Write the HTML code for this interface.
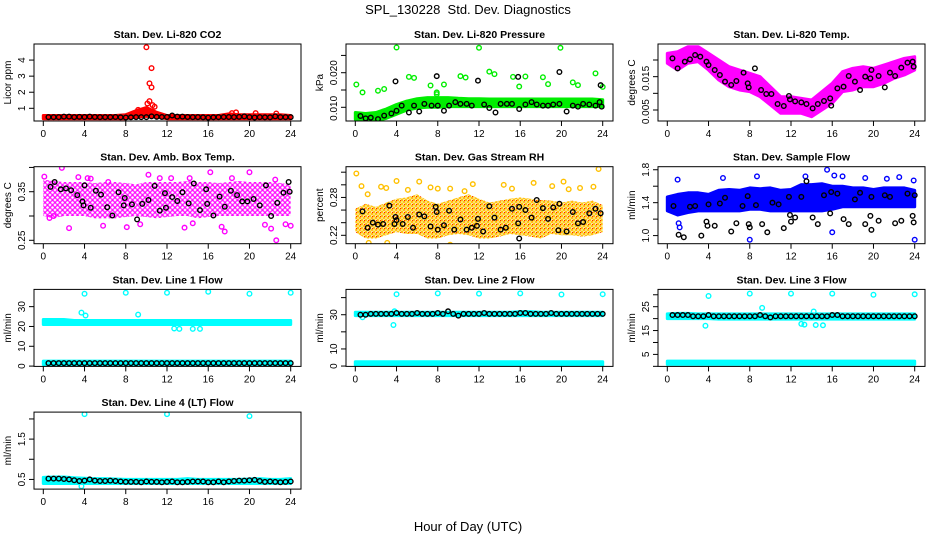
<!DOCTYPE html>
<html><head><meta charset="utf-8"><style>
body{margin:0;background:#fff;}
svg{display:block;font-family:"Liberation Sans",sans-serif;}
</style></head><body>
<svg id="c" width="936" height="540" xmlns="http://www.w3.org/2000/svg">
<rect width="936" height="540" fill="#fff"/>
<defs id="defs"></defs>
<text x="468" y="14" text-anchor="middle" font-size="13" style="white-space:pre">SPL_130228  Std. Dev. Diagnostics</text>
<text x="468" y="531" text-anchor="middle" font-size="13">Hour of Day (UTC)</text>
</svg>
<script>
// ---- shared data ----
const bandHours=[0,1,2,3,4,5,6,7,8,9,10,11,12,13,14,15,16,17,18,19,20,21,22,23,24];
const xTicks=[0,4,8,12,16,20,24];
// CO2
const co2BlackX=[0.5,1,1.5,2,2.5,3,3.5,4,4.5,5,5.5,6,6.5,7,7.5,8,8.5,9,9.5,10,10.5,11,11.5,12,12.5,13,13.5,14,14.5,15,15.5,16,16.5,17,17.5,18,18.5,19,19.5,20,20.5,21,21.5,22,22.5,23,23.5,24];
const co2BlackY=[0.45,0.45,0.45,0.48,0.48,0.45,0.47,0.46,0.48,0.46,0.45,0.45,0.45,0.46,0.44,0.43,0.44,0.45,0.45,0.45,0.5,0.47,0.46,0.46,0.55,0.48,0.48,0.46,0.45,0.45,0.44,0.42,0.44,0.45,0.46,0.46,0.45,0.47,0.5,0.45,0.43,0.45,0.44,0.44,0.5,0.45,0.45,0.45];
const co2Low=[0.35,0.35,0.35,0.35,0.35,0.35,0.35,0.35,0.35,0.45,0.5,0.45,0.35,0.35,0.35,0.35,0.35,0.35,0.35,0.35,0.35,0.35,0.35,0.35,0.35];
const co2High=[0.55,0.55,0.55,0.55,0.55,0.55,0.55,0.55,0.6,0.85,1.05,0.75,0.55,0.55,0.55,0.55,0.55,0.55,0.65,0.6,0.6,0.6,0.6,0.6,0.55];
const co2OutX=[10,10.5,10.3,10.5,10.3,9.2,10.8,18.3,18.7,20.6,22.6,10.1,10.6];
const co2OutY=[4.8,3.5,2.55,2.3,1.45,0.9,1.1,0.7,0.75,0.7,0.68,1.3,1.2];
// Pressure
const prBlackX=[0.5,1,1.5,2.2,2.8,3.5,3.9,4,4.5,5.2,5.7,6.2,6.7,7.4,7.9,8,8.6,9.1,9.7,10.2,10.8,11.3,11.9,12.5,13,13.6,14.1,14.7,15.2,15.8,15.9,16.5,17.1,17.6,18.2,18.7,19.2,19.8,19.8,20.5,21.1,21.6,22.1,22.7,23.3,23.8,23.9,23.7];
const prBlackY=[0.0075,0.0068,0.007,0.0066,0.0076,0.0082,0.0175,0.009,0.0105,0.0085,0.0105,0.0088,0.011,0.0105,0.019,0.0105,0.009,0.0105,0.0115,0.011,0.011,0.0105,0.0177,0.0108,0.0098,0.0085,0.011,0.011,0.011,0.0188,0.0095,0.0108,0.0115,0.0108,0.0105,0.0105,0.0108,0.0202,0.011,0.0088,0.0105,0.0102,0.011,0.0108,0.0105,0.0164,0.0102,0.0115];
const prLow=[0.0065,0.006,0.0062,0.0068,0.008,0.0092,0.0098,0.01,0.01,0.0102,0.0102,0.0102,0.0102,0.0102,0.0102,0.0102,0.0102,0.0102,0.0102,0.0102,0.0102,0.0102,0.0102,0.0102,0.0102];
const prHigh=[0.0085,0.0082,0.0085,0.0095,0.0108,0.0118,0.0125,0.0128,0.0128,0.0128,0.0126,0.0125,0.0125,0.0124,0.0124,0.0124,0.0124,0.0124,0.0124,0.0124,0.0124,0.0124,0.0124,0.0124,0.0122];
const prOutX=[0.1,0.7,2.2,2.8,4,5.2,5.7,7.3,7.9,7.9,8.6,10.2,10.7,12,13,13.5,15.3,15.9,16.5,18.2,18.7,19.9,21.1,21.6,23.3,24];
const prOutY=[0.0166,0.0143,0.0148,0.0153,0.0273,0.0188,0.0185,0.0163,0.0138,0.0143,0.0166,0.019,0.0186,0.0272,0.0203,0.0196,0.0188,0.016,0.0189,0.0187,0.0167,0.0272,0.0172,0.0164,0.0198,0.0159];
// Li-820 Temp
const tmBlackX=[0.5,1,1.7,2.2,2.7,3.2,3.8,4,4.6,5.1,5.6,6.2,6.7,7.4,7.8,7.9,8.5,9.1,9.6,10.1,10.7,11.3,11.8,11.9,12.4,13,13.5,14.1,14.6,15.2,15.8,15.9,16.5,17.1,17.6,18.2,18.7,19.2,19.7,19.8,20.5,21.1,21.6,22.1,22.7,23.3,23.8,23.9];
const tmBlackY=[0.0205,0.0175,0.0195,0.0202,0.0215,0.021,0.0195,0.0185,0.017,0.0155,0.0135,0.0125,0.0137,0.0162,0.013,0.0118,0.0175,0.011,0.0098,0.0098,0.0068,0.0062,0.0092,0.0082,0.0076,0.0073,0.0068,0.0055,0.0068,0.0077,0.0085,0.0063,0.0115,0.012,0.0152,0.0135,0.011,0.015,0.0145,0.017,0.0152,0.0118,0.0162,0.0152,0.0177,0.0192,0.0195,0.018];
const tmLow=[0.019,0.017,0.019,0.0195,0.017,0.014,0.012,0.011,0.0105,0.009,0.0065,0.004,0.004,0.004,0.003,0.005,0.007,0.0105,0.011,0.012,0.012,0.013,0.0145,0.0155,0.017];
const tmHigh=[0.022,0.0225,0.024,0.024,0.022,0.02,0.018,0.017,0.016,0.015,0.012,0.009,0.009,0.0085,0.008,0.0105,0.013,0.0165,0.0175,0.018,0.0175,0.0185,0.0195,0.0205,0.021];
// Ambient box temp
const abBlackX=[0.7,1.1,1.7,2.2,2.7,3.3,3.8,3.9,4,4.6,5.1,5.6,6.2,6.7,7.3,7.8,7.9,8.6,9.1,9.6,10.2,10.8,11.3,11.8,11.9,12.5,13,13.5,14.1,14.6,15.2,15.8,15.9,16.5,17.1,17.6,18.2,18.8,19.3,19.8,20.4,21,21.6,22.1,22.7,23.3,23.8,23.9];
const abBlackY=[0.36,0.37,0.355,0.357,0.353,0.343,0.33,0.322,0.363,0.317,0.352,0.344,0.318,0.301,0.349,0.322,0.337,0.324,0.293,0.325,0.333,0.362,0.311,0.347,0.317,0.339,0.331,0.349,0.326,0.367,0.312,0.355,0.325,0.301,0.34,0.319,0.352,0.343,0.33,0.33,0.335,0.322,0.363,0.3,0.327,0.348,0.37,0.35];
const abLow=[0.3,0.295,0.3,0.3,0.3,0.295,0.295,0.295,0.298,0.3,0.298,0.295,0.298,0.3,0.3,0.295,0.298,0.3,0.3,0.3,0.3,0.3,0.3,0.3,0.3];
const abHigh=[0.375,0.372,0.37,0.37,0.37,0.368,0.37,0.37,0.368,0.365,0.37,0.37,0.37,0.37,0.372,0.37,0.37,0.368,0.37,0.372,0.37,0.37,0.37,0.368,0.365];
const abOutX=[0.1,1.8,3.4,4.3,4.6,6.3,10.2,11.3,12.4,14.2,16.2,18.3,20,22.5,2.5,5.8,8.1,9.4,13.7,14.5,17.3,17.6,21.5,22.1,22.6,23.5,24,0.6,1.0];
const abOutY=[0.381,0.399,0.38,0.378,0.377,0.37,0.385,0.378,0.378,0.378,0.39,0.378,0.39,0.375,0.275,0.28,0.277,0.283,0.276,0.285,0.278,0.268,0.282,0.274,0.25,0.283,0.28,0.296,0.3];
// Gas stream RH
const rhBlackX=[0.7,1.2,1.7,2.2,2.7,3.3,3.8,3.9,4,4.6,5.1,5.6,6.2,6.7,7.3,7.8,7.9,8,8.6,9.1,9.6,10.2,10.8,11.3,11.8,11.9,12.4,13,13.5,14.1,14.6,15.2,15.8,15.9,15.9,16.5,17.1,17.6,18.2,18.7,19.2,19.7,19.8,20.5,21.1,21.6,22.1,22.7,23.3,23.8];
const rhBlackY=[0.258,0.232,0.24,0.237,0.238,0.267,0.238,0.249,0.244,0.238,0.249,0.232,0.253,0.25,0.234,0.265,0.257,0.229,0.236,0.259,0.229,0.245,0.229,0.232,0.235,0.246,0.226,0.266,0.248,0.229,0.232,0.262,0.239,0.265,0.215,0.26,0.248,0.276,0.263,0.246,0.264,0.228,0.27,0.226,0.257,0.239,0.241,0.255,0.262,0.255];
const rhLow=[0.225,0.215,0.215,0.22,0.225,0.222,0.222,0.215,0.215,0.22,0.222,0.22,0.215,0.215,0.218,0.222,0.22,0.218,0.215,0.222,0.22,0.22,0.218,0.22,0.225];
const rhHigh=[0.262,0.27,0.265,0.272,0.278,0.28,0.285,0.275,0.27,0.275,0.28,0.285,0.278,0.272,0.275,0.278,0.28,0.278,0.276,0.275,0.272,0.275,0.272,0.275,0.268];
const rhOutX=[0.1,0.6,1.2,2.5,3,4,5.1,6.2,7.3,8,9.2,10.6,11.4,14.4,15.2,17.3,19.1,20.2,20.7,21.8,23.1,23.6,9.2,3.1,1.3];
const rhOutY=[0.318,0.298,0.285,0.297,0.295,0.306,0.292,0.305,0.296,0.294,0.294,0.29,0.301,0.3,0.294,0.303,0.298,0.305,0.293,0.295,0.297,0.325,0.205,0.208,0.208];
// Sample flow
const sfBlackX=[0.6,1.1,1.6,2.2,2.7,3.3,3.8,3.9,4,4.6,5.1,5.6,6.2,6.7,7.3,7.8,7.9,8,8.6,9.2,9.7,10.2,10.8,11.3,11.8,11.9,12,12.4,13,13.5,14.1,14.6,15.2,15.8,15.9,16.5,17.1,17.6,18.2,18.7,19.2,19.7,19.8,19.8,20.5,21.1,21.6,22.1,22.7,23.3,23.8,23.9,24];
const sfBlackY=[1.36,1.01,0.98,1.35,1.36,1.0,1.17,1.12,1.38,1.12,1.39,1.46,1.05,1.15,1.36,1.48,1.14,1.1,1.37,1.14,1.04,1.4,1.38,1.09,1.47,1.25,1.17,1.22,1.47,1.66,1.22,1.14,1.49,1.27,1.53,1.51,1.2,1.14,1.44,1.52,1.14,1.24,1.07,1.47,1.18,1.49,1.47,1.15,1.18,1.51,1.24,1.16,1.49];
const sfLow=[1.3,1.25,1.28,1.3,1.3,1.3,1.3,1.3,1.32,1.32,1.3,1.3,1.3,1.3,1.3,1.3,1.32,1.35,1.35,1.35,1.35,1.35,1.35,1.35,1.35];
const sfHigh=[1.47,1.5,1.52,1.52,1.5,1.55,1.56,1.55,1.58,1.57,1.58,1.55,1.56,1.62,1.62,1.63,1.6,1.6,1.58,1.58,1.56,1.58,1.58,1.58,1.55];
const sfOutX=[1,1.1,1.2,5.4,8,8.7,13.4,15.5,16,16.2,17,19.2,22.5,23.9,24,21.3,1.5];
const sfOutY=[1.68,1.15,1.1,1.7,0.95,1.72,1.72,1.8,1.04,1.73,1.72,1.7,1.71,1.67,0.95,1.69,1.3];
// Line flows (black every 0.5 h)
const halfHours=[0.5,1,1.5,2,2.5,3,3.5,4,4.5,5,5.5,6,6.5,7,7.5,8,8.5,9,9.5,10,10.5,11,11.5,12,12.5,13,13.5,14,14.5,15,15.5,16,16.5,17,17.5,18,18.5,19,19.5,20,20.5,21,21.5,22,22.5,23,23.5,24];
const l1Black=[1.5,1.5,1.5,1.5,1.5,1.5,1.5,1.5,1.5,1.5,1.5,1.5,1.5,1.5,1.5,1.5,1.5,1.5,1.5,1.5,1.5,1.5,1.5,1.5,1.5,1.5,1.5,1.5,1.5,1.5,1.5,1.5,1.5,1.5,1.5,1.5,1.5,1.5,1.5,1.5,1.5,1.5,1.5,1.5,1.5,1.5,1.5,1.5];
const l1Low=[21,21,21,21,21,21,21,21,21,21,21,21,21,21,21,21,21,21,21,21,21,21,21,21,21];
const l1High=[23.5,23.5,23.5,23,23,23,23,23,23,23,23,23,23,23,23,23,23,23,23,23,23,23,23,23,23];
const l1LowBandLo=[0.8,0.8,0.8,0.8,0.8,0.8,0.8,0.8,0.8,0.8,0.8,0.8,0.8,0.8,0.8,0.8,0.8,0.8,0.8,0.8,0.8,0.8,0.8,0.8,0.8];
const l1LowBandHi=[2.5,2.5,2.5,2.5,2.5,2.5,2.5,2.5,2.5,2.5,2.5,2.5,2.5,2.5,2.5,2.5,2.5,2.5,2.5,2.5,2.5,2.5,2.5,2.5,2.5];
const l1OutX=[4,8,12,16,20,24,3.7,4.1,9.2,12.7,13.2,14.5,15.2];
const l1OutY=[36.5,37,37,37.5,36.5,37,27,25.5,26,19,18.8,18.8,18.8];
const l2Black=[30,30,30.5,30.5,30.5,30.5,30.5,31,30.5,30.5,30.5,31,30.5,30.5,30.5,31,30.5,32,30.5,29.5,30.5,30.5,30.5,30.5,31,30.5,30.5,30.5,30.5,30.5,30.5,31,31,30.5,30.5,30.5,30.5,31,30.5,30.5,30.5,30.5,30.5,30.5,30.5,30.5,30.5,30.5];
const l2Low=[29.5,29.5,29.5,29.5,29.5,29.5,29.5,29.5,29.5,29.5,29.5,29.5,29.5,29.5,29.5,29.5,29.5,29.5,29.5,29.5,29.5,29.5,29.5,29.5,29.5];
const l2High=[31.5,31.5,31.5,31.5,31.5,31.5,31.5,31.5,31.5,31.5,31.5,31.5,31.5,31.5,31.5,31.5,31.8,31.8,31.5,31.5,31.5,31.5,31.5,31.5,31.5];
const l2LowBandLo=[0.5,0.5,0.5,0.5,0.5,0.5,0.5,0.5,0.5,0.5,0.5,0.5,0.5,0.5,0.5,0.5,0.5,0.5,0.5,0.5,0.5,0.5,0.5,0.5,0.5];
const l2LowBandHi=[2.5,2.5,2.5,2.5,2.5,2.5,2.5,2.5,2.5,2.5,2.5,2.5,2.5,2.5,2.5,2.5,2.5,2.5,2.5,2.5,2.5,2.5,2.5,2.5,2.5];
const l2OutX=[4,8,12,16,20,24,3.7,0.7,3.8];
const l2OutY=[42,42.5,42.3,42.5,41.8,42,24,28.5,32];
const l3Black=[21.5,21.5,21.5,21.5,21,21,21,21.5,21,21,21,21,21,21,21,21,21,21.5,21,20.5,21,21,21,21,21,21,21,21,21,21,21,21.5,21.5,21,21,21,21,21,21,21,21,21,21,21,21,21,21,21];
const l3Low=[20,20,20,20,20,19.8,19.8,19.8,19.8,19.8,19.8,19.8,19.8,19.8,19.8,19.8,19.8,19.8,19.8,19.8,19.8,19.8,19.8,19.8,19.8];
const l3High=[22,22.2,22.2,22,22,22,22,22,22,22,22,22,22,22,22,22,22,22,22,22,22,22,22,22,22];
const l3LowBandLo=[0.8,0.8,0.8,0.8,0.8,0.8,0.8,0.8,0.8,0.8,0.8,0.8,0.8,0.8,0.8,0.8,0.8,0.8,0.8,0.8,0.8,0.8,0.8,0.8,0.8];
const l3LowBandHi=[2.2,2.2,2.2,2.2,2.2,2.2,2.2,2.2,2.2,2.2,2.2,2.2,2.2,2.2,2.2,2.2,2.2,2.2,2.2,2.2,2.2,2.2,2.2,2.2,2.2];
const l3OutX=[4,8,12,16,20,24,3.7,9.2,13,13.3,14.4,15.1,14.2];
const l3OutY=[29.5,30.5,30.5,30.5,30,30.2,17,24.5,17.8,17.5,17.3,17.2,23];
const l4Black=[0.52,0.52,0.52,0.51,0.5,0.48,0.46,0.47,0.5,0.47,0.46,0.46,0.47,0.46,0.45,0.44,0.44,0.44,0.43,0.45,0.44,0.44,0.43,0.44,0.45,0.43,0.43,0.44,0.45,0.45,0.45,0.43,0.43,0.45,0.43,0.45,0.46,0.47,0.47,0.48,0.49,0.46,0.44,0.45,0.44,0.43,0.44,0.45];
const l4Low=[0.4,0.4,0.4,0.4,0.4,0.4,0.4,0.4,0.4,0.4,0.4,0.4,0.4,0.4,0.4,0.4,0.4,0.4,0.4,0.4,0.4,0.4,0.4,0.4,0.4];
const l4High=[0.55,0.56,0.56,0.54,0.53,0.52,0.52,0.51,0.5,0.5,0.5,0.5,0.5,0.5,0.52,0.5,0.5,0.5,0.5,0.5,0.51,0.52,0.5,0.5,0.52];
const l4OutX=[4,12,20,3.7];
const l4OutY=[2.12,2.12,2.07,0.33];

const NS="http://www.w3.org/2000/svg";
const svg=document.getElementById('c');
const defs=document.getElementById('defs');
function mk(tag,attrs,parent){const e=document.createElementNS(NS,tag);for(const k in attrs)e.setAttribute(k,attrs[k]);(parent||svg).appendChild(e);return e;}
let patN=0;
function pattern(color,size,extra){
  const id='pat'+(patN++);
  const p=mk('pattern',{id:id,width:size,height:size,patternUnits:'userSpaceOnUse'},defs);
  mk('circle',{cx:size/2,cy:size/2,r:size/2-0.6,fill:'none',stroke:color,'stroke-width':1.2},p);
  if(extra)mk('circle',{cx:0,cy:0,r:1.2,fill:extra},p);
  return id;
}

function panel(cfg){
  const L=34+312*cfg.col, T=44+122.7*cfg.row, W=267, H=77, B=T+H;
  const g=mk('g',{});
  
  
  const xs=v=>L+9.3+v*(247.4/24);
  const ys=v=>T+(cfg.yTop-v)/(cfg.yTop-cfg.yBot)*H;
  const clip='clip'+cfg.col+cfg.row;
  const cp=mk('clipPath',{id:clip},g);mk('rect',{x:L,y:T,width:W,height:H},cp);
  const pg=mk('g',{'clip-path':'url(#'+clip+')'},g);
  const fill=cfg.pat?'url(#'+pattern(cfg.color,cfg.pat,cfg.extra)+')':cfg.color;
  (cfg.bands||[]).forEach(bd=>{
    let pts=bandHours.map((h,i)=>xs(h).toFixed(1)+','+ys(bd.hi[i]).toFixed(1));
    for(let i=bandHours.length-1;i>=0;i--)pts.push(xs(bandHours[i]).toFixed(1)+','+ys(bd.lo[i]).toFixed(1));
    const p=mk('polygon',{points:pts.join(' '),fill:fill,stroke:cfg.pat?'none':cfg.color,'stroke-width':3,'stroke-linejoin':'round'},pg);
    
    
  });
  (cfg.outX||[]).forEach((xv,i)=>{
    const c=mk('circle',{cx:xs(xv),cy:ys(cfg.outY[i]),r:2.3,fill:'none',stroke:cfg.color,'stroke-width':1.4},pg);
    
    
  });
  cfg.bx.forEach((xv,i)=>{
    const c=mk('circle',{cx:xs(xv),cy:ys(cfg.by[i]),r:2.3,fill:'none',stroke:'#000','stroke-width':1.4},pg);
    
    
  });
  const bx=mk('rect',{x:L,y:T,width:W,height:H,fill:'none',stroke:'#000','stroke-width':1},g);
  
  
  const t=mk('text',{x:L+W/2,y:T-6,'text-anchor':'middle','font-size':10.5,'font-weight':'bold'},g);
  t.textContent=cfg.title;
  
  
  xTicks.forEach(v=>{
    mk('line',{x1:xs(v),x2:xs(v),y1:B,y2:B+5,stroke:'#000'},g);
    const tx=mk('text',{x:xs(v),y:B+16,'text-anchor':'middle','font-size':10},g);
    tx.textContent=v;
    
    
  });
  cfg.yTicks.forEach(v=>{
    mk('line',{x1:L-5,x2:L,y1:ys(v),y2:ys(v),stroke:'#000'},g);
  });
  cfg.yLabels.forEach((lab,i)=>{
    const y=ys(cfg.yLabelVals[i]);
    const tx=mk('text',{x:L-9,y:y,'text-anchor':'middle','font-size':10,transform:'rotate(-90 '+(L-9)+' '+y+')'},g);
    tx.textContent=lab;
    
    
  });
  const yl=mk('text',{x:L-23,y:T+H/2,'text-anchor':'middle','font-size':10,transform:'rotate(-90 '+(L-23)+' '+(T+H/2)+')'},g);
  yl.textContent=cfg.ylab;
  
  
}

panel({name:'panel-co2',col:0,row:0,title:'Stan. Dev. Li-820 CO2',ylab:'Licor ppm',color:'#ff0000',yTop:5.0,yBot:0.21,yTicks:[1,2,3,4],yLabels:['1','2','3','4'],yLabelVals:[1,2,3,4],bands:[{lo:co2Low,hi:co2High}],outX:co2OutX,outY:co2OutY,bx:co2BlackX,by:co2BlackY});
panel({name:'panel-pressure',col:1,row:0,title:'Stan. Dev. Li-820 Pressure',ylab:'kPa',color:'#00ee00',yTop:0.0283,yBot:0.00604,yTicks:[0.010,0.015,0.020,0.025],yLabels:['0.010','0.020'],yLabelVals:[0.0097,0.020],bands:[{lo:prLow,hi:prHigh}],outX:prOutX,outY:prOutY,bx:prBlackX,by:prBlackY});
panel({name:'panel-li820-temp',col:2,row:0,title:'Stan. Dev. Li-820 Temp.',ylab:'degrees C',color:'#ff00ff',yTop:0.0248,yBot:0.0017,yTicks:[0.005,0.010,0.015,0.020],yLabels:['0.005','0.015'],yLabelVals:[0.0045,0.0145],bands:[{lo:tmLow,hi:tmHigh}],outX:[],outY:[],bx:tmBlackX,by:tmBlackY});
panel({name:'panel-amb-box-temp',col:0,row:1,title:'Stan. Dev. Amb. Box Temp.',ylab:'degrees C',color:'#ff00ff',pat:5,yTop:0.4015,yBot:0.243,yTicks:[0.25,0.30,0.35,0.40],yLabels:['0.25','0.35'],yLabelVals:[0.25,0.35],bands:[{lo:abLow,hi:abHigh}],outX:abOutX,outY:abOutY,bx:abBlackX,by:abBlackY});
panel({name:'panel-gas-rh',col:1,row:1,title:'Stan. Dev. Gas Stream RH',ylab:'percent',color:'#ffc000',pat:4,extra:'#ff2000',yTop:0.3287,yBot:0.2067,yTicks:[0.22,0.24,0.26,0.28,0.30,0.32],yLabels:['0.22','0.28'],yLabelVals:[0.22,0.28],bands:[{lo:rhLow,hi:rhHigh}],outX:rhOutX,outY:rhOutY,bx:rhBlackX,by:rhBlackY});
panel({name:'panel-sample-flow',col:2,row:1,title:'Stan. Dev. Sample Flow',ylab:'ml/min',color:'#0000ff',yTop:1.837,yBot:0.9015,yTicks:[1.0,1.2,1.4,1.6,1.8],yLabels:['1.0','1.4','1.8'],yLabelVals:[1.0,1.4,1.8],bands:[{lo:sfLow,hi:sfHigh}],outX:sfOutX,outY:sfOutY,bx:sfBlackX,by:sfBlackY});
panel({name:'panel-line1-flow',col:0,row:2,title:'Stan. Dev. Line 1 Flow',ylab:'ml/min',color:'#00ffff',yTop:38.7,yBot:-0.15,yTicks:[0,10,20,30],yLabels:['0','10','20','30'],yLabelVals:[0,10,20,30],bands:[{lo:l1Low,hi:l1High},{lo:l1LowBandLo,hi:l1LowBandHi}],outX:l1OutX,outY:l1OutY,bx:halfHours,by:l1Black});
panel({name:'panel-line2-flow',col:1,row:2,title:'Stan. Dev. Line 2 Flow',ylab:'ml/min',color:'#00ffff',yTop:44.8,yBot:-0.2,yTicks:[0,10,20,30,40],yLabels:['0','10','30'],yLabelVals:[0,10,30],bands:[{lo:l2Low,hi:l2High},{lo:l2LowBandLo,hi:l2LowBandHi}],outX:l2OutX,outY:l2OutY,bx:halfHours,by:l2Black});
panel({name:'panel-line3-flow',col:2,row:2,title:'Stan. Dev. Line 3 Flow',ylab:'ml/min',color:'#00ffff',yTop:32.25,yBot:-0.03,yTicks:[0,5,10,15,20,25,30],yLabels:['5','15','25'],yLabelVals:[5,15,25],bands:[{lo:l3Low,hi:l3High},{lo:l3LowBandLo,hi:l3LowBandHi}],outX:l3OutX,outY:l3OutY,bx:halfHours,by:l3Black});
panel({name:'panel-line4-flow',col:0,row:3,title:'Stan. Dev. Line 4 (LT) Flow',ylab:'ml/min',color:'#00ffff',yTop:2.17,yBot:0.26,yTicks:[0.5,1.0,1.5,2.0],yLabels:['0.5','1.5'],yLabelVals:[0.5,1.5],bands:[{lo:l4Low,hi:l4High}],outX:l4OutX,outY:l4OutY,bx:halfHours,by:l4Black});
</script>
</body></html>
